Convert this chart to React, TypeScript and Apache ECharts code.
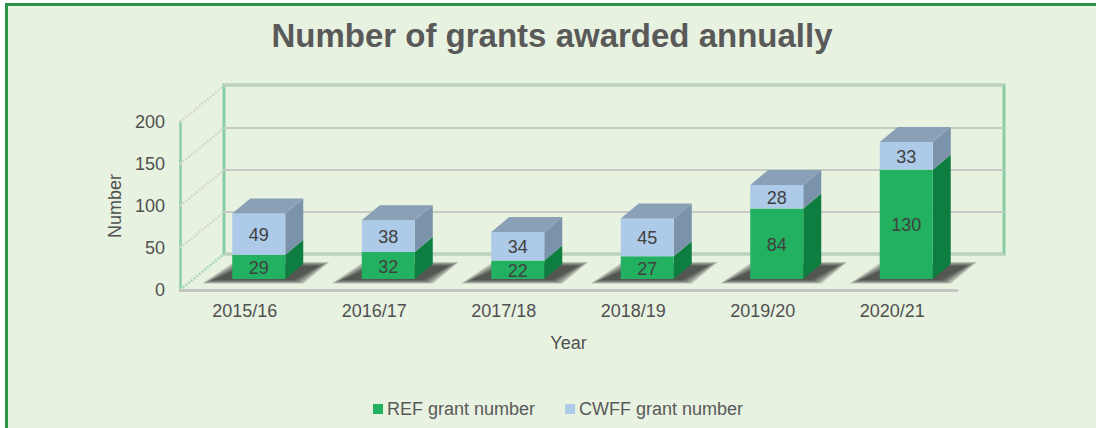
import React, { useEffect, useRef } from 'react';
import * as echarts from 'echarts';

const chartTitle = 'Number of grants awarded annually';
const years = ['2015/16', '2016/17', '2017/18', '2018/19', '2019/20', '2020/21'];
const refGrants = [29, 32, 22, 27, 84, 130];
const cwffGrants = [49, 38, 34, 45, 28, 33];
const yTicks = [0, 50, 100, 150, 200];
const seriesNames = ['REF grant number', 'CWFF grant number'];
const xAxisName = 'Year';
const yAxisName = 'Number';

const FONT = "'Liberation Sans', Arial, Helvetica, sans-serif";
const BAR_W = 53;
const BAR_SHIFT_X = 14;
const BAR_SHIFT_Y = -11;
const DX = 18;
const DY = 15;
const WALL_DX = 44;
const WALL_DY = 36;

function boxRender(front: string, side: string, top: string, withShadow: boolean, withTop: boolean) {
  return (params: any, api: any) => {
    const i = api.value(0);
    const base = api.value(1);
    const v = api.value(2);
    const pb = api.coord([i, base]);
    const pt = api.coord([i, base + v]);
    const cx = pb[0] + BAR_SHIFT_X;
    const x0 = cx - BAR_W / 2;
    const x1 = cx + BAR_W / 2;
    const yb = pb[1] + BAR_SHIFT_Y;
    const yt = pt[1] + BAR_SHIFT_Y;
    const children: any[] = [];
    if (withShadow) {
      [10, 7.5, 5, 2.5, 0].forEach((e) => {
        children.push({
          type: 'polygon',
          silent: true,
          shape: {
            points: [
              [x0 - 20 - e, yb + 1 + e * 0.35],
              [x1 + 8 + e, yb + 1 + e * 0.35],
              [x1 + DX + 16 + e, yb - 13 - e * 0.4],
              [x0 + 12 - e, yb - 13 - e * 0.4],
            ],
          },
          style: { fill: 'rgba(35,35,35,0.24)' },
        });
      });
    }
    children.push({
      type: 'polygon',
      shape: { points: [[x1, yb], [x1, yt], [x1 + DX, yt - DY], [x1 + DX, yb - DY]] },
      style: { fill: side },
    });
    children.push({
      type: 'rect',
      shape: { x: x0, y: yt, width: BAR_W, height: yb - yt },
      style: { fill: front },
    });
    if (withTop) {
      children.push({
        type: 'polygon',
        shape: { points: [[x0, yt], [x1, yt], [x1 + DX, yt - DY], [x0 + DX, yt - DY]] },
        style: { fill: top },
      });
    }
    children.push({
      type: 'text',
      x: cx,
      y: (yt + yb) / 2 + 1,
      style: {
        text: String(v),
        fill: '#404040',
        fontSize: 18,
        fontFamily: FONT,
        align: 'center',
        verticalAlign: 'middle',
      },
    });
    return { type: 'group', children };
  };
}

function wallRender(params: any, api: any) {
  const v = api.value(1);
  const p = api.coord([0, v]);
  const x = params.coordSys.x;
  const y = p[1];
  return {
    type: 'line',
    silent: true,
    shape: { x1: x, y1: y, x2: x + WALL_DX, y2: y - WALL_DY },
    style: {
      stroke: v === 0 ? '#a6d7b8' : '#d3d7d0',
      lineWidth: 2.5,
      lineDash: [2, 1.5],
    },
  };
}

export default function App() {
  const ref = useRef<HTMLDivElement>(null);
  useEffect(() => {
    if (!ref.current) return;
    const chart = echarts.init(ref.current, null, { renderer: 'svg' });
    const option: any = {
      animation: false,
      backgroundColor: '#e8f2e1',
      textStyle: { fontFamily: FONT },
      title: {
        text: chartTitle,
        left: 552,
        textAlign: 'center',
        top: 19,
        padding: 0,
        textStyle: { fontFamily: FONT, fontSize: 33, fontWeight: 'bold', color: '#595959' },
      },
      legend: {
        data: seriesNames,
        left: 368,
        top: 395,
        icon: 'rect',
        itemWidth: 10,
        itemHeight: 10,
        itemGap: 30,
        textStyle: { fontFamily: FONT, fontSize: 18, color: '#595959', padding: [0, 0, 0, -1] },
      },
      graphic: [
        { type: 'rect', silent: true, shape: { x: 0, y: 0, width: 1096, height: 3 }, style: { fill: '#ffffff' } },
        { type: 'rect', silent: true, shape: { x: 0, y: 0, width: 5, height: 428 }, style: { fill: '#ffffff' } },
        { type: 'rect', silent: true, shape: { x: 5, y: 3, width: 1091, height: 3 }, style: { fill: '#2c9444' } },
        { type: 'rect', silent: true, shape: { x: 5, y: 3, width: 3, height: 425 }, style: { fill: '#2c9444' } },
      ],
      grid: [
        { left: 180, top: 122, width: 777, height: 168, show: false },
        { left: 224, top: 85, width: 780, height: 169, show: true, borderColor: '#88cda1', borderWidth: 3, backgroundColor: 'transparent' },
      ],
      xAxis: [
        {
          type: 'category',
          gridIndex: 0,
          data: years,
          axisTick: { show: false },
          axisLine: { show: true, lineStyle: { color: '#c4c6c2', width: 3 } },
          axisLabel: { fontSize: 18, color: '#505050', margin: 12, fontFamily: FONT },
          name: xAxisName,
          nameLocation: 'middle',
          nameGap: 44,
          nameTextStyle: { fontSize: 18, color: '#505050', fontFamily: FONT },
          z: 1,
        },
        {
          type: 'category',
          gridIndex: 1,
          data: years,
          show: false,
        },
      ],
      yAxis: [
        {
          type: 'value',
          gridIndex: 0,
          min: 0,
          max: 200,
          interval: 50,
          axisLine: { show: true, lineStyle: { color: '#8ccfa6', width: 2.5 } },
          axisTick: { show: false },
          splitLine: { show: false },
          axisLabel: { fontSize: 18, color: '#505050', margin: 15, fontFamily: FONT },
          name: yAxisName,
          nameLocation: 'middle',
          nameGap: 50,
          nameTextStyle: { fontSize: 18, color: '#505050', fontFamily: FONT },
        },
        {
          type: 'value',
          gridIndex: 1,
          min: 0,
          max: 200,
          interval: 50,
          axisLine: { show: false },
          axisTick: { show: false },
          axisLabel: { show: false },
          splitLine: { show: true, lineStyle: { color: '#c8cbc5', width: 2 } },
        },
      ],
      series: [
        {
          type: 'custom',
          name: 'walls',
          xAxisIndex: 0,
          yAxisIndex: 0,
          silent: true,
          data: yTicks.map((v) => [0, v]),
          encode: { x: 0, y: 1 },
          renderItem: wallRender,
          z: 1,
        },
        {
          type: 'custom',
          name: seriesNames[0],
          xAxisIndex: 0,
          yAxisIndex: 0,
          itemStyle: { color: '#22b160' },
          data: years.map((_, i) => [i, 0, refGrants[i]]),
          encode: { x: 0, y: 2 },
          renderItem: boxRender('#22b160', '#0d7e3f', '#1a9a52', true, false),
          z: 3,
        },
        {
          type: 'custom',
          name: seriesNames[1],
          xAxisIndex: 0,
          yAxisIndex: 0,
          itemStyle: { color: '#adcbe8' },
          data: years.map((_, i) => [i, refGrants[i], cwffGrants[i]]),
          encode: { x: 0, y: 2 },
          renderItem: boxRender('#adcbe8', '#7a92aa', '#8aa0b6', false, true),
          z: 4,
        },
      ],
    };
    chart.setOption(option);
    return () => chart.dispose();
  }, []);
  return (
    <div
      ref={ref}
      style={{ position: 'fixed', left: 0, top: 0, width: 1096, height: 428 }}
    />
  );
}
